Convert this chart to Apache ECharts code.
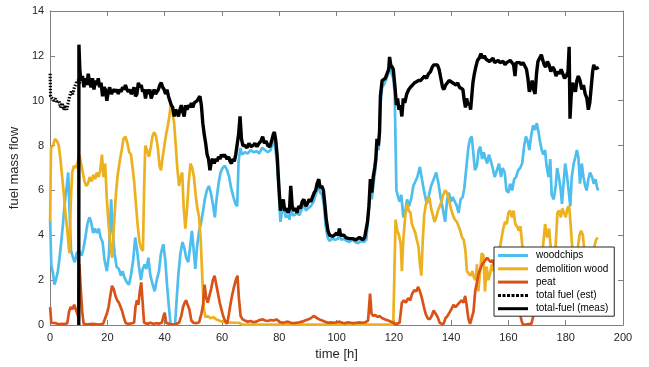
<!DOCTYPE html>
<html><head><meta charset="utf-8">
<script src="https://cdn.jsdelivr.net/npm/echarts@6/dist/echarts.min.js"></script>
<style>html,body{margin:0;padding:0;background:#fff}#c{width:649px;height:367px}</style>
</head><body><div id="c"></div>
<script>
const xTicks = [0,20,40,60,80,100,120,140,160,180,200];
const yTicks = [0,2,4,6,8,10,12,14];
const seriesNames = ["woodchips","demolition wood","peat","total fuel (est)","total-fuel (meas)"];

const woodchips = [[0,4.7],[0.4,2.7],[1,2.3],[1.5,1.8],[2,2.0],[2.7,2.4],[3.3,3.0],[3.8,3.6],[4.4,4.4],[5,5.3],[5.8,6.2],[6.3,6.8],[6.8,5.0],[7.3,3.3],[8,3.0],[8.6,2.8],[9.3,3.2],[10,3.3],[11,3.1],[11.6,3.4],[12.3,3.9],[13,4.5],[13.7,4.8],[14.3,4.6],[15,4.1],[15.6,4.3],[16.3,4.1],[17,4.3],[17.6,3.9],[18.3,3.7],[19,2.9],[19.8,2.4],[20.5,3.1],[21.3,5.6],[21.8,4.2],[22.5,3.2],[23.2,2.6],[24,2.5],[24.7,2.2],[25.3,2.4],[26,2.1],[26.8,1.9],[27.5,1.8],[28.2,2.2],[29,2.9],[29.7,3.9],[30.3,3.4],[31,2.6],[31.7,2.0],[32.3,2.5],[33,2.7],[33.6,2.5],[34.3,3.0],[35,2.2],[35.8,1.8],[36.5,1.5],[37.2,2.0],[38,2.4],[38.7,3.2],[39.5,3.6],[40.2,2.9],[40.8,1.8],[41.4,0.9],[42,0.1],[42.6,0],[43.6,0],[44.2,1.2],[44.8,2.3],[45.5,3.2],[46.2,3.7],[46.9,3.4],[47.5,3.0],[48.2,2.8],[48.8,3.4],[49.5,4.2],[50,3.5],[50.7,2.5],[51.3,3.5],[52,4.2],[52.6,4.5],[53.3,5.0],[54,5.6],[54.7,6.0],[55.4,6.2],[56.1,5.9],[56.8,5.4],[57.5,4.8],[58.1,5.6],[58.8,6.3],[59.5,6.8],[60.2,7.0],[61,7.1],[61.8,6.9],[62.5,6.6],[63.2,6.1],[64,5.7],[64.7,5.4],[65.3,5.3],[65.8,7.3],[66.4,7.9],[67,7.6],[68,7.7],[69,7.65],[70,7.8],[71,7.7],[72,7.75],[73,7.65],[74,7.9],[75,7.8],[76,7.7],[77,7.8],[78,8.3],[78.6,7.9],[79.2,7.2],[79.8,6.0],[80.4,4.6],[81,5.1],[81.6,5.2],[82.3,4.8],[83,4.9],[83.6,4.7],[84.1,5.8],[84.6,4.9],[85.3,4.9],[86,5.0],[87,4.9],[88,5.2],[88.6,5.4],[89.3,5.1],[90,5.2],[91,5.3],[92,5.5],[92.7,5.8],[93.6,6.2],[94.3,5.9],[95,5.8],[95.6,5.3],[96.2,4.4],[96.9,3.9],[97.5,3.75],[98.5,3.85],[99.5,3.8],[100.5,3.85],[101,4.0],[101.6,3.8],[102.5,3.85],[103.5,3.75],[104.5,3.7],[105.5,3.8],[106.5,3.7],[107.5,3.65],[108.5,3.75],[109.5,3.7],[110.4,3.8],[111,4.8],[111.8,6.0],[112.3,5.6],[113,6.4],[113.6,7.0],[114.1,7.9],[114.7,7.8],[115.3,9.8],[115.9,10.6],[116.5,10.7],[117.2,10.9],[118,11.2],[118.5,11.6],[119.2,11.2],[119.8,11.0],[120.3,10.3],[120.6,8.0],[120.9,6.0],[121.5,5.7],[122,5.5],[122.6,5.8],[123.3,4.8],[124,5.1],[124.6,5.6],[125.3,5.3],[126,5.6],[126.8,6.2],[127.5,6.4],[128.2,6.6],[129.1,7.05],[129.8,6.5],[130.5,6.0],[131.5,5.4],[132.3,5.8],[133,6.2],[133.9,6.5],[134.8,6.8],[135.6,6.3],[136.3,5.7],[137.2,5.1],[137.9,4.6],[138.6,5.6],[139.2,5.9],[139.9,5.5],[140.5,5.7],[141.3,5.5],[142,5.3],[142.6,5.0],[143.3,5.6],[144,5.7],[144.6,6.1],[145.3,7.0],[146,7.9],[146.6,8.3],[147.2,8.4],[147.8,7.6],[148.3,6.9],[149,7.1],[149.6,7.8],[150.2,7.95],[150.8,7.4],[151.4,7.7],[152,7.4],[152.6,7.2],[153.2,7.6],[153.9,7.3],[154.5,7.0],[155.2,6.6],[156,6.9],[156.7,7.2],[157.4,6.6],[158,7.0],[158.7,6.8],[159.3,6.0],[160,5.9],[160.6,6.3],[161.3,6.0],[162,6.5],[162.7,6.6],[163.4,6.9],[164.1,7.0],[164.8,7.2],[165.5,8.0],[166.1,8.4],[166.7,8.2],[167.3,7.8],[167.9,8.4],[168.6,8.9],[169.3,8.7],[169.9,9.0],[170.5,8.6],[171,8.2],[171.6,7.8],[172.2,7.6],[172.8,7.8],[173.3,7.1],[174,6.6],[174.6,7.4],[175.1,5.8],[175.8,5.6],[176.5,6.2],[177,7.0],[177.6,6.6],[178.2,6.1],[178.7,5.4],[179.3,6.4],[179.8,7.2],[180.4,6.7],[181,6.0],[181.6,5.3],[182.1,6.6],[182.8,7.2],[183.4,7.5],[183.9,7.8],[184.4,7.5],[185,6.3],[185.6,7.2],[186.2,6.6],[186.8,6.2],[187.3,6.0],[187.9,6.5],[188.5,6.8],[189.2,6.6],[189.8,6.3],[190.4,6.5],[191,6.1],[191.4,6.0]];

const demolition = [[0,4.6],[0.3,7.9],[1,8.0],[1.7,8.3],[2.4,8.2],[3,8.0],[3.6,7.4],[4.2,6.6],[4.8,5.8],[5.4,4.9],[6,4.2],[6.7,3.2],[7.2,5.5],[7.7,6.8],[8.3,7.1],[8.9,7.0],[9.5,7.2],[10.2,7.6],[10.8,7.2],[11.4,6.8],[12,6.4],[12.6,6.2],[13.2,6.3],[13.8,6.6],[14.5,6.4],[15.1,6.7],[15.7,6.5],[16.3,6.8],[16.9,6.6],[17.5,6.9],[18.1,7.6],[18.6,6.6],[19.2,7.2],[19.8,5.6],[20.4,4.5],[21,3.6],[21.7,3.0],[22.3,4.5],[23,5.9],[23.6,6.7],[24.3,7.3],[25,7.8],[25.6,8.3],[26.3,8.4],[27,8.1],[27.6,7.7],[28.2,7.6],[28.8,7.0],[29.4,6.3],[30,5.3],[30.6,4.4],[31.2,3.7],[31.8,3.4],[32.4,3.3],[32.8,6.0],[33.2,8.0],[33.8,7.8],[34.5,7.5],[35.1,7.9],[35.7,8.4],[36.3,8.6],[37,8.4],[37.6,7.9],[38.2,7.1],[38.7,6.9],[39.3,7.5],[39.9,8.0],[40.5,8.5],[41.1,8.9],[41.6,9.3],[42.1,9.8],[42.7,9.5],[43.3,9.0],[43.8,8.1],[44.4,7.0],[45,6.2],[45.6,6.6],[46.1,6.8],[46.6,5.3],[47.2,4.3],[47.8,5.2],[48.4,6.4],[49,7.2],[49.6,7.0],[50.2,6.6],[50.8,5.8],[51.4,5.2],[52,4.8],[52.6,3.7],[53.1,2.2],[53.6,0.8],[54.2,0.35],[55,0.4],[56,0.3],[57,0.35],[58,0.25],[59,0.2],[60,0.15],[62,0.12],[64,0.1],[66,0.1],[67,0.02],[119.8,0.02],[120.4,0.05],[120.6,4.7],[121.2,4.2],[121.8,4.0],[122.4,3.6],[122.8,2.4],[123.3,3.8],[124,4.9],[124.6,5.4],[125.2,5.1],[125.8,5.0],[126.3,4.5],[126.9,4.3],[127.5,4.1],[128,3.8],[128.6,3.5],[129.1,2.7],[129.6,2.2],[130.1,3.8],[130.6,4.9],[131.2,5.4],[131.8,5.6],[132.4,5.7],[133,5.2],[133.6,4.9],[134.2,4.6],[134.8,4.8],[135.4,5.1],[136,5.3],[136.6,5.5],[137.2,5.8],[137.9,6.0],[138.5,5.9],[139.2,5.6],[139.9,5.2],[140.6,4.9],[141.3,4.7],[142,4.6],[142.6,4.6],[143.2,4.2],[143.8,3.9],[144.4,3.8],[145,3.3],[145.5,2.4],[146.1,2.3],[146.8,2.2],[147.4,2.4],[148,2.1],[148.6,2.0],[149,2.7],[149.5,1.5],[150.1,2.4],[150.7,3.2],[151.3,3.1],[151.8,1.5],[152.4,2.6],[153,2.0],[153.6,2.3],[154.2,2.7],[154.8,2.4],[155.5,2.6],[156.2,2.9],[156.8,3.3],[157.5,3.8],[158.2,4.3],[158.8,4.6],[159.4,4.5],[160,5.0],[160.6,5.1],[161.2,4.8],[161.8,5.1],[162.4,4.5],[163,4.4],[163.6,4.2],[164.2,4.4],[164.8,3.6],[165.4,3.0],[166,2.4],[167,2.0],[168,1.8],[169,2.2],[170,2.0],[171,2.6],[172,3.4],[172.8,4.5],[173.5,3.9],[174.2,4.3],[174.8,3.4],[175.4,3.3],[176,2.6],[176.6,3.8],[177.1,5.0],[177.7,5.1],[178.3,4.8],[178.8,5.2],[179.4,5.0],[180,4.8],[180.6,5.2],[181.2,5.3],[181.7,4.5],[182.2,3.6],[182.8,2.6],[183.5,2.8],[184.2,3.4],[184.8,4.0],[185.4,4.2],[186,4.0],[186.6,3.2],[187.2,2.6],[188,2.4],[188.7,2.8],[189.4,3.2],[190,3.5],[190.6,3.8],[191.2,3.9]];

const peat = [[0,0.8],[0.4,0.1],[1,0.05],[2,0.08],[3,0.03],[4,0.05],[5,0.04],[6,0.08],[6.6,0.6],[7.2,0.8],[7.8,0.7],[8.4,0.9],[9,0.85],[9.5,0.5],[10,0.3],[10.2,2.7],[10.7,1.6],[11.2,0.6],[11.7,0.05],[13,0.03],[15,0.05],[17,0.02],[18.5,0.05],[19.2,0.3],[19.8,0.5],[20.4,0.8],[21,1.3],[21.6,1.75],[22.2,1.6],[22.8,1.3],[23.4,1.1],[24,1.0],[24.6,0.8],[25.2,0.6],[25.8,0.3],[26.4,0.08],[27.5,0.05],[28.5,0.08],[29.3,0.1],[29.8,0.8],[30.3,1.1],[30.8,0.9],[31.3,1.5],[31.8,1.9],[32.3,1.0],[32.8,0.1],[34,0.05],[35,0.1],[36,0.05],[37,0.08],[38,0.06],[39,0.1],[39.6,0.4],[40,0.55],[40.5,0.1],[41.5,0.05],[43,0.02],[44,0.05],[45,0.1],[45.8,0.4],[46.4,0.8],[47,1.0],[47.5,1.1],[48,0.9],[48.6,0.7],[49.3,0.2],[50,0.1],[51,0.08],[52,0.12],[52.8,0.5],[53.4,0.9],[53.9,1.8],[54.5,1.2],[55,1.0],[55.6,1.3],[56.2,1.6],[56.8,2.0],[57.4,2.2],[58,1.8],[58.6,1.4],[59.2,1.0],[59.8,0.7],[60.4,0.4],[61,0.2],[61.8,0.05],[62.3,0.4],[62.8,0.8],[63.5,1.3],[64.2,1.7],[64.8,2.0],[65.4,2.2],[65.9,1.2],[66.5,0.4],[67.2,0.25],[68,0.2],[69,0.15],[70,0.18],[71,0.12],[72,0.15],[73,0.22],[73.6,0.3],[74.3,0.25],[75,0.2],[76,0.18],[77,0.22],[78,0.2],[79,0.25],[80,0.15],[81,0.1],[82,0.12],[83,0.15],[84,0.1],[85,0.08],[86,0.1],[87,0.12],[88,0.15],[89,0.2],[90,0.25],[91,0.3],[92,0.4],[92.6,0.45],[93.3,0.3],[94,0.25],[95,0.2],[96,0.15],[97,0.1],[98,0.12],[99,0.1],[100,0.12],[101,0.15],[102,0.1],[103,0.08],[104,0.12],[105,0.1],[106,0.08],[107,0.1],[108,0.12],[109,0.1],[110,0.12],[111,0.2],[111.7,1.4],[112.2,0.5],[112.8,0.4],[113.5,0.45],[114.3,0.35],[115,0.4],[116,0.3],[117,0.25],[118,0.2],[119,0.15],[120,0.08],[121,0.05],[122,0.1],[122.8,1.0],[123.5,1.1],[124.2,1.0],[125,1.2],[125.7,1.1],[126.4,1.4],[127.1,1.55],[127.8,1.5],[128.5,1.7],[129.1,1.5],[129.8,1.2],[130.5,0.8],[131.1,0.5],[131.8,0.3],[132.5,0.25],[133.2,0.4],[133.9,0.65],[134.6,0.5],[135.3,0.35],[136,0.1],[136.7,0.05],[137.4,0.06],[138,0.3],[138.7,0.4],[139.4,0.55],[140.1,0.7],[140.8,0.9],[141.5,0.8],[142.2,0.9],[142.9,1.0],[143.6,1.1],[144.3,1.0],[144.9,1.3],[145.5,0.8],[146,0.3],[146.6,0.05],[147.2,0.05],[147.8,0.6],[148.4,1.5],[149,1.9],[149.6,2.3],[150.2,2.5],[150.8,2.7],[151.4,2.8],[152,2.9],[152.6,3.0],[153.2,3.0],[153.8,2.8],[154.4,2.9],[155,2.7],[156,2.3],[157,2.0],[158,1.6],[159,1.2],[160,0.9],[161,0.8],[162,0.7],[163,0.6],[164,0.5],[164.6,0.2],[165,0.03],[166,0.02],[167,0.04],[168,0.05],[168.5,0.3],[169,0.6],[170,1.2],[171,1.6],[172,1.9],[173,2.1],[174,2.2],[175,2.0],[176,1.8],[177,1.5],[178,1.2],[179,1.0],[180,0.9],[181,1.0],[182,0.8],[183,0.7],[184,0.6],[185,0.7],[186,0.9],[187,1.1],[188,1.2],[189,1.0],[190,0.9],[191,1.0]];

const totalEst = [[0,11.2],[0.15,10.2],[0.7,10.15],[1.3,10.0],[1.9,10.1],[2.5,9.9],[3.1,10.0],[3.6,9.7],[4.2,9.9],[4.7,9.6],[5.2,9.8],[5.8,9.6],[6.3,9.9],[6.8,10.2],[7.3,10.4],[7.9,10.3],[8.5,10.6],[9.1,10.8],[9.6,10.9],[10.2,10.8],[10.8,10.9]];

const totalMeas = [[10,0],[10.05,12.5],[10.4,11.3],[10.8,10.9],[11.3,11.1],[11.8,10.6],[12.3,11.0],[12.8,10.7],[13.3,11.2],[13.8,10.8],[14.3,10.6],[14.8,11.0],[15.3,10.5],[15.8,10.9],[16.3,10.7],[16.8,11.0],[17.3,10.6],[17.8,10.8],[18.3,10.2],[18.8,10.6],[19.3,10.5],[19.8,10.0],[20.3,10.4],[20.8,10.6],[21.3,10.3],[21.8,10.4],[22.3,10.5],[22.8,10.4],[23.3,10.5],[23.8,10.3],[24.3,10.5],[24.8,10.4],[25.3,10.6],[25.8,10.5],[26.3,10.7],[26.8,10.5],[27.3,10.4],[27.8,10.5],[28.3,10.3],[28.8,10.4],[29.3,10.6],[29.8,10.2],[30.3,10.3],[30.8,10.8],[31.3,10.6],[31.8,10.7],[32.3,10.4],[32.8,10.5],[33.3,10.1],[33.8,10.5],[34.3,10.3],[34.8,10.5],[35.3,10.1],[35.8,10.3],[36.3,10.5],[36.8,10.3],[37.3,10.4],[37.8,10.5],[38.3,10.7],[38.8,10.8],[39.3,10.6],[39.8,10.5],[40.3,10.3],[40.8,10.5],[41.3,10.2],[41.8,10.0],[42.3,9.8],[42.8,9.7],[43.3,9.3],[43.8,9.6],[44.3,9.5],[44.8,9.3],[45.3,9.6],[45.8,9.8],[46.3,9.5],[46.8,9.3],[47.3,9.8],[47.8,9.6],[48.3,9.8],[48.8,9.7],[49.3,9.9],[49.8,9.7],[50.3,9.9],[50.8,9.9],[51.3,10.0],[51.8,10.1],[52.3,10.2],[52.8,9.8],[53.3,9.0],[53.8,8.5],[54.3,8.1],[54.8,7.6],[55.3,7.4],[55.8,6.9],[56.3,7.3],[56.8,7.4],[57.3,7.2],[57.8,7.4],[58.3,7.3],[58.8,7.5],[59.3,7.4],[59.8,7.6],[60.3,7.5],[60.8,7.6],[61.3,7.5],[61.8,7.4],[62.3,7.5],[62.8,7.3],[63.3,7.2],[63.8,7.4],[64.3,7.3],[64.8,7.6],[65.3,7.6],[65.8,8.5],[66.3,9.3],[66.8,8.3],[67.3,8.0],[68,8.0],[68.7,7.9],[69.4,8.1],[70.1,7.95],[70.8,8.0],[71.5,8.1],[72.2,7.95],[72.9,8.1],[73.6,8.2],[74.2,8.4],[74.8,8.1],[75.4,8.2],[76,8.0],[76.7,7.95],[77.3,8.2],[77.9,8.5],[78.3,8.6],[78.8,8.2],[79.3,7.5],[79.8,6.3],[80.4,5.1],[80.9,5.4],[81.4,5.6],[81.9,5.1],[82.5,5.2],[83.1,5.0],[83.6,5.2],[84,6.2],[84.5,5.3],[85,5.1],[85.6,5.2],[86.2,5.0],[86.8,5.3],[87.4,5.2],[88,5.5],[88.6,5.6],[89.2,5.3],[89.8,5.4],[90.4,5.6],[91,5.5],[91.6,5.7],[92.2,5.9],[92.7,6.0],[93.2,6.3],[93.8,6.5],[94.3,6.1],[94.8,6.2],[95.4,6.0],[95.9,5.4],[96.4,4.7],[97,4.2],[97.6,4.0],[98.2,4.05],[98.8,3.95],[99.4,4.0],[100,4.1],[100.5,4.0],[101,4.3],[101.4,4.0],[102,3.95],[102.6,4.0],[103.2,3.9],[103.8,3.95],[104.4,3.85],[105,3.9],[105.6,3.85],[106.2,3.9],[106.8,3.8],[107.4,3.85],[108,3.9],[108.6,3.85],[109.2,3.8],[109.8,3.9],[110.4,3.95],[110.8,4.6],[111.3,5.3],[111.8,6.5],[112.3,5.9],[112.8,6.6],[113.3,7.0],[113.7,7.4],[114.1,8.3],[114.6,8.0],[115,8.6],[115.3,10.2],[115.9,10.9],[116.4,10.9],[117,11.0],[117.6,11.2],[118.2,11.4],[118.5,11.95],[118.9,11.6],[119.4,11.5],[119.8,11.4],[120.4,10.6],[120.9,9.8],[121.3,10.1],[121.8,9.6],[122.3,9.8],[122.8,9.3],[123.3,10.1],[123.8,9.9],[124.5,10.3],[125.2,10.5],[125.8,10.6],[126.5,10.7],[127.2,10.8],[127.9,10.85],[128.6,10.9],[129.3,10.9],[130,11.0],[130.7,11.1],[131.4,11.0],[132.1,11.2],[132.8,11.3],[133.4,11.5],[134,11.6],[134.6,11.65],[135.2,11.6],[135.8,11.4],[136.4,11.0],[137,10.6],[137.5,10.5],[138.1,10.7],[138.7,10.8],[139.3,10.9],[139.9,10.85],[140.5,10.8],[141.1,10.85],[141.7,10.7],[142.3,10.8],[142.9,10.6],[143.5,10.6],[144.1,10.5],[144.6,10.0],[145,9.7],[145.4,10.1],[145.9,9.8],[146.4,9.9],[146.8,9.6],[147.2,10.2],[147.6,10.8],[148.1,11.2],[148.6,11.5],[149.2,11.8],[149.8,11.9],[150.4,12.1],[151,11.9],[151.6,12.0],[152.2,11.85],[152.8,11.9],[153.4,11.75],[154,11.8],[154.6,11.9],[155.2,11.7],[155.8,11.75],[156.4,11.8],[157,11.7],[157.6,11.65],[158.2,11.75],[158.8,11.6],[159.4,11.7],[160,11.65],[160.6,11.8],[161.2,11.7],[161.8,11.6],[162.3,11.1],[162.7,11.7],[163.3,11.75],[163.9,11.7],[164.5,11.6],[165.1,11.7],[165.7,11.55],[166.3,11.4],[166.8,11.0],[167.3,10.4],[167.8,10.6],[168.3,10.9],[168.8,10.5],[169.3,10.3],[169.8,11.2],[170.3,11.75],[170.9,11.9],[171.5,12.05],[172,11.8],[172.5,11.6],[173,11.5],[173.6,11.75],[174.2,11.6],[174.8,11.3],[175.4,11.5],[176,11.4],[176.6,11.1],[177.2,11.3],[177.8,11.2],[178.4,11.4],[179,11.2],[179.6,11.0],[180.2,11.1],[180.8,11.3],[181.2,12.4],[181.5,9.2],[181.9,10.2],[182.4,10.8],[182.9,10.6],[183.4,10.4],[183.9,10.9],[184.4,11.1],[185,10.9],[185.6,10.5],[186.2,10.7],[186.8,10.3],[187.4,10.1],[187.9,9.6],[188.4,9.9],[188.9,10.6],[189.4,11.3],[189.8,11.6],[190.3,11.4],[190.8,11.5],[191.3,11.4]];

const colors = ["#4DBEEE","#EDB120","#D95319","#000000","#000000"];
const FONT = "Liberation Sans, Arial, Helvetica, sans-serif";
const axisCol = "#808080";
const labCol = "#262626";
const solidIcon = 'path://M0,0h30v3h-30z';
const dotIcon = 'path://M0,0h3v3h-3zM4.5,0h3v3h-3zM9,0h3v3h-3zM13.5,0h3v3h-3zM18,0h3v3h-3zM22.5,0h3v3h-3zM27,0h3v3h-3z';

const chart = echarts.init(document.getElementById('c'), null, {renderer:'canvas'});
function lineSeries(name, data, color, width, type, z) {
  return {name, type:'line', data, xAxisIndex:0, yAxisIndex:0, showSymbol:false, symbol:'none',
    lineStyle:{color, width, type}, itemStyle:{color}, z, animation:false, clip:true};
}
chart.setOption({
  animation:false,
  textStyle:{fontFamily:FONT},
  grid:{left:49, right:26, top:11, bottom:42, containLabel:false},
  xAxis:[
    {type:'value', min:xTicks[0], max:xTicks[xTicks.length-1], interval:20, position:'bottom',
     name:'time [h]', nameLocation:'middle', nameGap:22,
     nameTextStyle:{fontSize:13, color:labCol, fontFamily:FONT},
     axisLine:{show:true, onZero:false, lineStyle:{color:axisCol, width:1}},
     axisTick:{show:true, inside:true, length:5, lineStyle:{color:axisCol}},
     axisLabel:{fontSize:11, color:labCol, margin:7, fontFamily:FONT},
     splitLine:{show:false}},
    {type:'value', min:xTicks[0], max:xTicks[xTicks.length-1], interval:20, position:'top',
     axisLine:{show:true, onZero:false, lineStyle:{color:axisCol, width:1}},
     axisTick:{show:true, inside:true, length:5, lineStyle:{color:axisCol}},
     axisLabel:{show:false}, splitLine:{show:false}}
  ],
  yAxis:[
    {type:'value', min:yTicks[0], max:yTicks[yTicks.length-1], interval:2, position:'left',
     name:'fuel mass flow', nameLocation:'middle', nameGap:27,
     nameTextStyle:{fontSize:13, color:labCol, fontFamily:FONT},
     axisLine:{show:true, onZero:false, lineStyle:{color:axisCol, width:1}},
     axisTick:{show:true, inside:true, length:5, lineStyle:{color:axisCol}},
     axisLabel:{fontSize:11, color:labCol, margin:6, fontFamily:FONT},
     splitLine:{show:false}},
    {type:'value', min:yTicks[0], max:yTicks[yTicks.length-1], interval:2, position:'right',
     axisLine:{show:true, onZero:false, lineStyle:{color:axisCol, width:1}},
     axisTick:{show:true, inside:true, length:5, lineStyle:{color:axisCol}},
     axisLabel:{show:false}, splitLine:{show:false}}
  ],
  legend:{
    show:true, orient:'vertical', left:494, top:247, z:50, zlevel:0,
    data:[
      {name:seriesNames[0], icon:solidIcon},
      {name:seriesNames[1], icon:solidIcon},
      {name:seriesNames[2], icon:solidIcon},
      {name:seriesNames[3], icon:dotIcon},
      {name:seriesNames[4], icon:solidIcon}
    ],
    itemWidth:30, itemHeight:3, itemGap:2.3, padding:[3,6,2,4],
    backgroundColor:'#ffffff', borderColor:'#262626', borderWidth:1, borderRadius:0,
    textStyle:{fontSize:10, lineHeight:11, color:'#000', fontFamily:FONT, padding:[0,0,0,3]},
    selectedMode:false
  },
  series:[
    lineSeries(seriesNames[0], woodchips, colors[0], 2.7, 'solid', 2),
    lineSeries(seriesNames[1], demolition, colors[1], 2.7, 'solid', 3),
    lineSeries(seriesNames[2], peat, colors[2], 2.7, 'solid', 4),
    lineSeries(seriesNames[3], totalEst, colors[3], 3.2, [1.5,1.5], 5),
    lineSeries(seriesNames[4], totalMeas, colors[4], 3.4, 'solid', 6)
  ]
});
</script></body></html>
